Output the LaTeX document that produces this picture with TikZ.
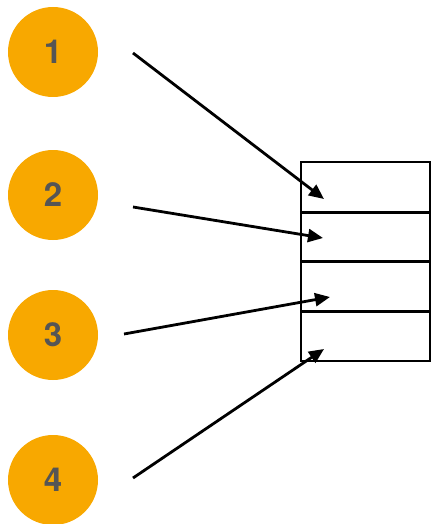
\documentclass[tikz,border=0pt]{standalone}
\usepackage{fontspec}
\setmainfont{TeX Gyre Heros}
\usetikzlibrary{arrows.meta}
\definecolor{badge}{RGB}{248,168,0}
\definecolor{digit}{RGB}{85,85,85}
\begin{document}
\begin{tikzpicture}[x=1pt,y=-1pt,
  badgenode/.style={circle,fill=badge,minimum size=90pt,inner sep=0pt,text=digit,font=\fontsize{33}{33}\selectfont\bfseries},
  pointer/.style={line width=2.8pt,-{Triangle[length=15pt,width=13pt]}},
  cellrule/.style={line width=3pt},
  boxline/.style={line width=1.6pt}]
\useasboundingbox (0,0) rectangle (431,524);
\node[badgenode] (c1) at (53,52) {1};
\node[badgenode] (c2) at (53,195) {2};
\node[badgenode] (c3) at (53,335) {3};
\node[badgenode] (c4) at (53,480) {4};
\draw[boxline] (301,162) rectangle (430,361);
\draw[cellrule] (301,212) -- (430,212);
\draw[cellrule] (301,261.5) -- (430,261.5);
\draw[cellrule] (301,311) -- (430,311);
\coordinate (s1) at (133,53);
\coordinate (s2) at (133,207);
\coordinate (s3) at (124,334);
\coordinate (s4) at (133,478);
\coordinate (t1) at (324,199);
\coordinate (t2) at (323,238);
\coordinate (t3) at (330,297);
\coordinate (t4) at (324,349);
\draw[pointer] (s1) -- (t1);
\draw[pointer] (s2) -- (t2);
\draw[pointer] (s3) -- (t3);
\draw[pointer] (s4) -- (t4);
\end{tikzpicture}
\end{document}
